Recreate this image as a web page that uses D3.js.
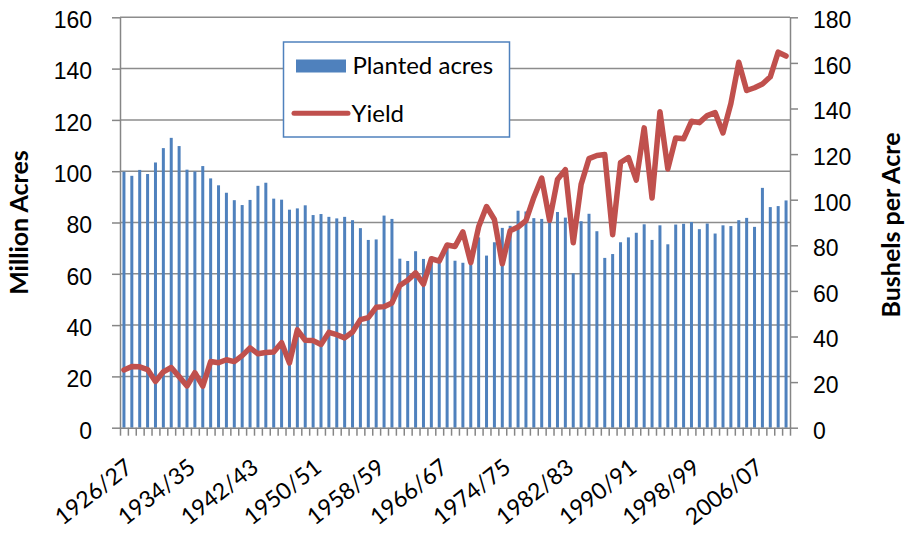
<!DOCTYPE html>
<html>
<head>
<meta charset="utf-8">
<script src="https://cdn.jsdelivr.net/npm/d3@7"></script>
<style>
  body { margin: 0; background: #fff; }
  svg { display: block; font-family: Lato, "Open Sans", sans-serif; }
  .axis path, .axis line { stroke: #868686; stroke-width: 1.5; }
  .axis text { fill: #000; font-size: 23px; }
</style>
</head>
<body>
<svg id="chart"></svg>
<script>
// Marketing years, 1926/27 through 2010/11
const startYears = d3.range(1926, 2011);
const categories = startYears.map(y => y + "/" + String((y + 1) % 100).padStart(2, "0"));

// Planted acres, million
const plantedAcres = [
  99.8, 98.2, 100.5, 98.9, 103.4, 109.0, 113.0, 109.8, 100.6, 99.9,
  102.0, 97.2, 94.5, 91.6, 88.7, 86.8, 88.8, 94.3, 95.5, 89.3,
  88.9, 85.0, 85.5, 86.7, 82.9, 83.3, 82.2, 81.6, 82.2, 80.9,
  77.8, 73.2, 73.4, 82.7, 81.4, 65.9, 65.0, 68.8, 65.8, 65.2,
  66.3, 71.2, 65.1, 64.3, 66.9, 74.2, 67.1, 72.3, 77.9, 78.7,
  84.6, 84.3, 81.7, 81.4, 84.0, 84.1, 81.9, 60.2, 80.5, 83.4,
  76.6, 66.2, 67.7, 72.3, 74.2, 76.0, 79.3, 73.2, 78.9, 71.5,
  79.2, 79.5, 80.2, 77.4, 79.6, 75.7, 78.9, 78.6, 80.9, 81.8,
  78.3, 93.5, 86.0, 86.4, 88.6
];

// Yield, bushels per acre
const yieldBu = [
  25.3, 26.8, 26.7, 25.5, 20.3, 24.5, 26.4, 22.4, 18.3, 24.1,
  18.2, 29.0, 28.5, 29.8, 29.0, 31.6, 35.0, 32.4, 33.0, 33.2,
  37.3, 28.4, 42.9, 38.3, 38.2, 36.5, 41.8, 40.8, 39.4, 42.0,
  47.4, 48.3, 52.8, 53.1, 54.7, 62.4, 64.7, 67.9, 62.9, 74.1,
  73.1, 80.1, 79.5, 85.9, 72.4, 88.1, 97.0, 91.3, 71.9, 86.4,
  88.0, 90.8, 101.0, 109.5, 91.0, 108.9, 113.2, 81.1, 106.7, 118.0,
  119.4, 119.8, 84.6, 116.3, 118.5, 108.6, 131.5, 100.7, 138.6, 113.5,
  127.1, 126.7, 134.4, 133.8, 136.9, 138.2, 129.3, 142.2, 160.3, 147.9,
  149.1, 150.7, 153.9, 164.7, 163.0
];

const xTickLabels = ["1926/27", "1934/35", "1942/43", "1950/51", "1958/59", "1966/67",
                     "1974/75", "1982/83", "1990/91", "1998/99", "2006/07"];
const leftTicks = [0, 20, 40, 60, 80, 100, 120, 140, 160];
const rightTicks = [0, 20, 40, 60, 80, 100, 120, 140, 160, 180];

const W = 909, H = 536;
const plot = { left: 120, right: 790, top: 17.3, bottom: 427.7 };

const svg = d3.select("#chart").attr("width", W).attr("height", H);

const x = d3.scaleBand()
  .domain(categories)
  .range([plot.left, plot.right])
  .paddingInner(0.62)
  .paddingOuter(0.31);

// boundary scale for the category tick marks
const xEdge = d3.scaleLinear().domain([0, categories.length]).range([plot.left, plot.right]);

const yLeft = d3.scaleLinear().domain([0, 160]).range([plot.bottom, plot.top]);
const yRight = d3.scaleLinear().domain([0, 180]).range([plot.bottom, plot.top]);

// gridlines
svg.append("g")
  .selectAll("line")
  .data(leftTicks.filter(d => d > 0))
  .enter().append("line")
  .attr("x1", plot.left).attr("x2", plot.right)
  .attr("y1", d => yLeft(d)).attr("y2", d => yLeft(d))
  .attr("stroke", "#8c8c8c")
  .attr("stroke-width", 1.5);

// bars
svg.append("g")
  .selectAll("rect")
  .data(plantedAcres)
  .enter().append("rect")
  .attr("x", (d, i) => x(categories[i]))
  .attr("y", d => yLeft(d))
  .attr("width", x.bandwidth())
  .attr("height", d => yLeft(0) - yLeft(d))
  .attr("fill", "#4F81BD");

// axes
const leftAxis = svg.append("g")
  .attr("class", "axis")
  .attr("transform", `translate(${plot.left},0)`)
  .call(d3.axisLeft(yLeft).tickValues(leftTicks).tickSize(8).tickPadding(20).tickSizeOuter(0));
leftAxis.selectAll("text").attr("dy", "0.45em");

const rightAxis = svg.append("g")
  .attr("class", "axis")
  .attr("transform", `translate(${plot.right},0)`)
  .call(d3.axisRight(yRight).tickValues(rightTicks).tickSize(8).tickPadding(15).tickSizeOuter(0));
rightAxis.selectAll("text").attr("dy", "0.45em");

svg.append("g")
  .attr("class", "axis")
  .attr("transform", `translate(0,${plot.bottom})`)
  .call(d3.axisBottom(xEdge).tickValues(d3.range(categories.length + 1)).tickFormat("").tickSize(8).tickSizeOuter(0));

// yield line
const line = d3.line()
  .x((d, i) => x(categories[i]) + x.bandwidth() / 2)
  .y(d => yRight(d));

svg.append("path")
  .datum(yieldBu)
  .attr("d", line)
  .attr("fill", "none")
  .attr("stroke", "#C0504D")
  .attr("stroke-width", 5.5)
  .attr("stroke-linejoin", "round")
  .attr("stroke-linecap", "round");

// category labels
svg.append("g")
  .selectAll("text")
  .data(xTickLabels)
  .enter().append("text")
  .attr("transform", d => `translate(${x(d) + x.bandwidth() / 2 + 5},464) rotate(-38)`)
  .attr("text-anchor", "end")
  .attr("dy", "0.35em")
  .style("font-size", "23px")
  .text(d => d);

// axis titles
svg.append("text")
  .attr("transform", "translate(28,222.5) rotate(-90)")
  .attr("text-anchor", "middle")
  .style("font-size", "25px")
  .style("font-weight", "bold")
  .text("Million Acres");

svg.append("text")
  .attr("transform", "translate(900,225) rotate(-90)")
  .attr("text-anchor", "middle")
  .style("font-size", "25px")
  .style("font-weight", "bold")
  .text("Bushels per Acre");

// legend
const legend = svg.append("g");
legend.append("rect")
  .attr("x", 283.5).attr("y", 42)
  .attr("width", 226).attr("height", 95)
  .attr("fill", "#fff")
  .attr("stroke", "#4F81BD")
  .attr("stroke-width", 1.5);
legend.append("rect")
  .attr("x", 296).attr("y", 59.5)
  .attr("width", 50).attr("height", 13)
  .attr("fill", "#4F81BD");
legend.append("text")
  .attr("x", 352.5).attr("y", 74)
  .style("font-size", "24px")
  .text("Planted acres");
legend.append("line")
  .attr("x1", 294).attr("x2", 348)
  .attr("y1", 113.3).attr("y2", 113.3)
  .attr("stroke", "#C0504D")
  .attr("stroke-width", 5)
  .attr("stroke-linecap", "round");
legend.append("text")
  .attr("x", 351.5).attr("y", 121.5)
  .style("font-size", "24px")
  .text("Yield");
</script>
</body>
</html>
